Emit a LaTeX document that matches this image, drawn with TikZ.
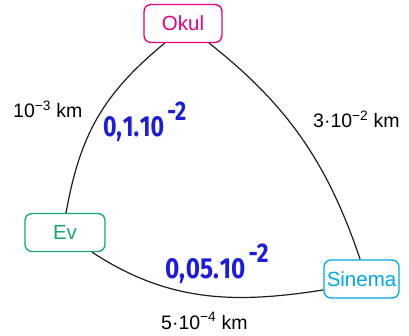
\documentclass[tikz,border=0pt]{standalone}
\usepackage{fontspec}
\setmainfont{Liberation Sans}
\newfontfamily\handfont{Fira Sans}
\usetikzlibrary{positioning}
\definecolor{okulpink}{RGB}{230,0,128}
\definecolor{evgreen}{RGB}{22,168,112}
\definecolor{sinemacyan}{RGB}{0,168,232}
\definecolor{penblue}{RGB}{28,28,224}
\definecolor{arcgray}{RGB}{30,30,30}

\begin{document}
\begin{tikzpicture}[
  x=1pt, y=1pt,
  place/.style={rectangle, rounded corners=7pt, draw, line width=1.3pt,
                minimum height=38pt, inner sep=2pt,
                font=\fontsize{20.5}{23}\selectfont},
  arc/.style={draw=arcgray, line width=1.2pt},
  dist/.style={anchor=base west, inner sep=0pt, font=\fontsize{19.5}{22}\selectfont},
  hand/.style={anchor=base west, inner sep=0pt, text=penblue,
               font=\handfont\bfseries\fontsize{29}{29}\selectfont}
]
  \useasboundingbox (0,0) rectangle (409,335);

  %% -- Places
  \node[place, draw=okulpink, text=okulpink, minimum width=78pt] (okul) at (183,311.5) {Okul};
  \node[place, draw=evgreen, text=evgreen, minimum width=80pt] (ev) at (65,102.5) {Ev};
  \node[place, draw=sinemacyan, text=sinemacyan, minimum width=75pt] (sinema) at (361.5,56) {Sinema};

  %% -- Roads
  \draw[arc] (okul.227) .. controls +(-62,-51) and +(14,78) .. (ev.87);
  \draw[arc] (okul.323) .. controls +(79,-62) and +(-32,95) .. (sinema.94);
  \draw[arc] (ev.324) .. controls +(76,-50) and +(-89,-14) .. (sinema.196);

  %% -- Distances
  \node[dist] (dok) at (13,217) {10\textsuperscript{−3} km};
  \node[dist] (dos) at (313,207) {3·10\textsuperscript{−2} km};
  \node[dist] (des) at (161,6) {5·10\textsuperscript{−4} km};

  %% -- Handwritten notes
  \node[hand] (nok) at (103,198) {\scalebox{0.8}[1]{0,\kern1pt1.\kern1pt10\kern4pt\raisebox{16pt}{\fontsize{27}{27}\selectfont -2}}};
  \node[hand] (nes) at (165,57) {\scalebox{0.84}[1]{0,\kern1pt05.\kern1pt10\kern4pt\raisebox{16pt}{\fontsize{27}{27}\selectfont -2}}};
\end{tikzpicture}
\end{document}
